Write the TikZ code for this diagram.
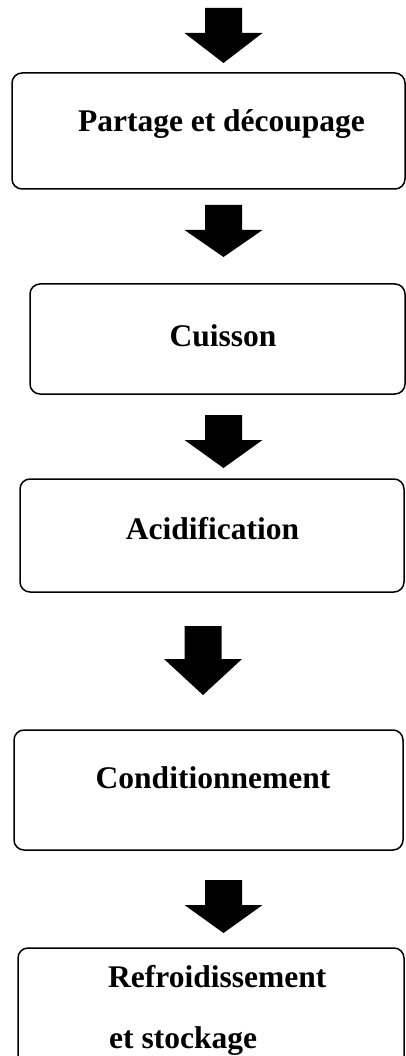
\documentclass[tikz,border=0pt]{standalone}
\usepackage{fontspec}
\setmainfont{Liberation Serif}
\tikzset{
  stepbox/.style={draw, line width=1.5pt, rounded corners=10pt, inner sep=0pt},
  steptext/.style={font=\bfseries\fontsize{31.5}{38}\selectfont, inner sep=0pt},
}
\begin{document}
\begin{tikzpicture}[x=1pt,y=-1pt]
        \useasboundingbox (0,0) rectangle (406,1056);

        % block arrows: centre x / top / head start / tip
        \foreach \cx/\top/\hd/\tip in {223.5/8/33/63, 223.5/205/230/257, 223.5/415/440/468, 203/626/659/695, 223.5/880/905/933}
          \fill[black] (\cx-18.5,\top) -- (\cx+18.5,\top) -- (\cx+18.5,\hd) -- (\cx+39,\hd)
                -- (\cx,\tip) -- (\cx-39,\hd) -- (\cx-18.5,\hd) -- cycle;

        \node[stepbox, minimum width=393pt, minimum height=116pt] (b1) at (208.5,131) {};
        \node[stepbox, minimum width=375pt, minimum height=110pt] (b2) at (217.5,339) {};
        \node[stepbox, minimum width=384pt, minimum height=113pt] (b3) at (212,535.5) {};
        \node[stepbox, minimum width=389pt, minimum height=120pt] (b4) at (208.5,790) {};
        \node[stepbox, minimum width=386pt, minimum height=124pt] (b5) at (211,1010) {};

        \node[steptext, anchor=base] (t1) at (221.5,132) {Partage et découpage};
        \node[steptext, anchor=base] (t2) at (223,346) {Cuisson};
        \node[steptext, anchor=base] (t3) at (212.5,539) {Acidification};
        \node[steptext, anchor=base] (t4) at (213,788) {Conditionnement};
        \node[steptext, anchor=base west] (t5) at (108,987) {Refroidissement};
        \node[steptext, anchor=base west] (t6) at (109,1048) {et stockage};

        \end{tikzpicture}
\end{document}
